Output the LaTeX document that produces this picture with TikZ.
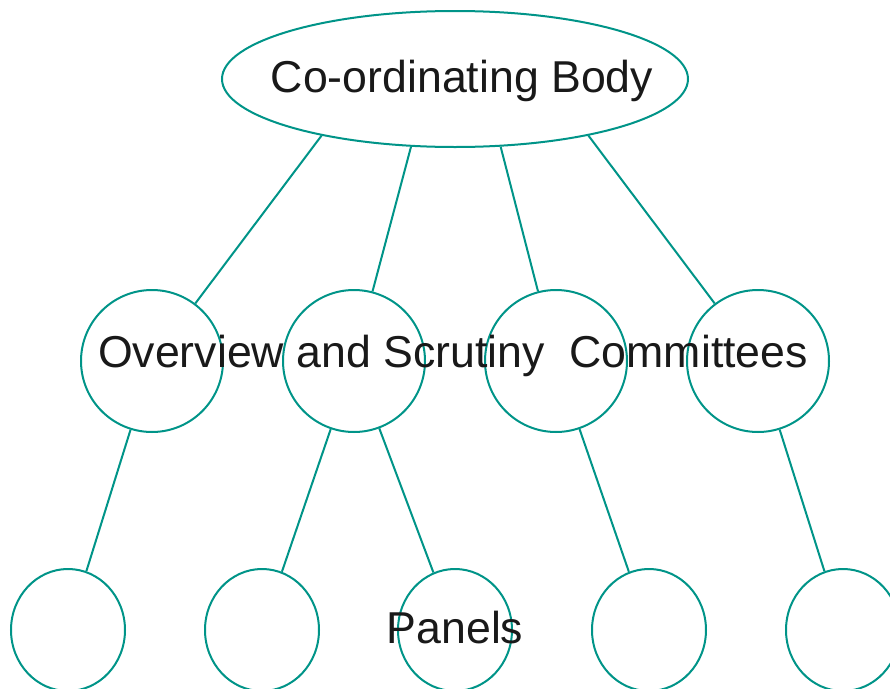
\documentclass[tikz,border=0pt]{standalone}
\usepackage{fontspec}
\setmainfont{Liberation Sans}
\usetikzlibrary{shapes.geometric}
\definecolor{tealline}{RGB}{0,148,136}
\begin{document}
\begin{tikzpicture}
[x=0.75pt, y=-0.75pt, line width=1.5pt,
body/.style={ellipse, draw=tealline, inner sep=0pt, minimum width=349.5pt, minimum height=102pt},
committee/.style={circle, draw=tealline, inner sep=0pt, minimum size=106.5pt},
panel/.style={ellipse, draw=tealline, inner sep=0pt, minimum width=85.5pt, minimum height=91.5pt},
link/.style={draw=tealline},
caption/.style={anchor=base, inner sep=0pt, text=black!90, font=\fontsize{33.5}{40}\selectfont}]

\useasboundingbox (0,0) rectangle (890,689);

\node[body] (top) at (455,79) {};

\node[committee] (com1) at (152,361) {};
\node[committee] (com2) at (354,361) {};
\node[committee] (com3) at (556,361) {};
\node[committee] (com4) at (758,361) {};

\node[panel] (pan1) at (68,630) {};
\node[panel] (pan2) at (262,630) {};
\node[panel] (pan3) at (455,630) {};
\node[panel] (pan4) at (649,630) {};
\node[panel] (pan5) at (843,630) {};

\draw[link] (top.203) -- (com1);
\draw[link] (top.237) -- (com2);
\draw[link] (top.304) -- (com3);
\draw[link] (top.337) -- (com4);

\draw[link] (com1) -- (pan1);
\draw[link] (com2) -- (pan2);
\draw[link] (com2) -- (pan3);
\draw[link] (com3) -- (pan4);
\draw[link] (com4) -- (pan5);

\node[caption] (bodytext) at (462,92) {Co-ordinating Body};
\node[caption] (comtext) at (453,367) {Overview and Scrutiny~~Committees};
\node[caption] (pantext) at (455,643) {Panels};
\end{tikzpicture}
\end{document}
